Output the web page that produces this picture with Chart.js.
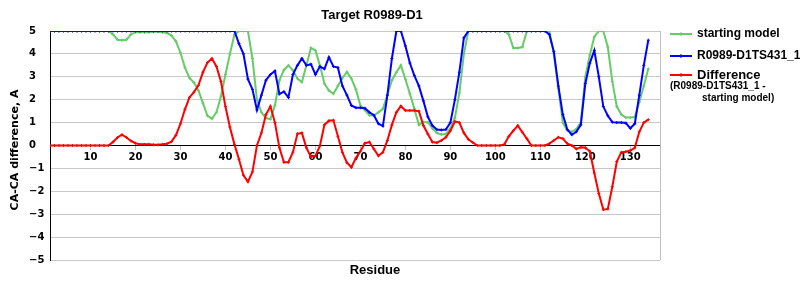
<!DOCTYPE html>
<html>
<head>
<meta charset="utf-8">
<script src="https://cdn.jsdelivr.net/npm/chart.js@4/dist/chart.umd.min.js"></script>
<style>
  html, body { margin: 0; padding: 0; background: #fff; }
</style>
</head>
<body>
<canvas id="chart" width="800" height="300"></canvas>
<script>
// residue numbers along the x axis
const residues = Array.from({ length: 134 }, (_, i) => i + 1);

// CA-CA difference of the starting model (green)
const startingModel = [
  5, 5, 5, 5, 5, 5, 5, 5, 5, 5,
  5, 5, 5, 5, 4.85, 4.62, 4.6, 4.62, 4.85, 4.95,
  4.95, 4.95, 4.95, 4.97, 4.97, 4.95, 4.92, 4.8, 4.55, 4.05,
  3.4, 2.95, 2.75, 2.4, 1.85, 1.3, 1.17, 1.45, 2.15, 3.1,
  4.0, 4.85, 5, 5, 5, 3.8, 2.0, 1.45, 1.2, 1.15,
  1.75, 2.85, 3.3, 3.5, 3.28, 2.92, 2.77, 3.5, 4.26, 4.15,
  3.5, 2.7, 2.4, 2.26, 2.6, 2.95, 3.21, 2.92, 2.45, 1.75,
  1.55, 1.32, 1.31, 1.45, 1.6, 2.2, 2.85, 3.2, 3.5, 2.9,
  2.26, 1.6, 0.9, 1.02, 1.02, 0.75, 0.55, 0.48, 0.5, 0.75,
  1.2, 2.3, 4.0, 5, 5, 5, 5, 5, 5, 5,
  5, 5, 4.85, 4.26, 4.26, 4.3, 5, 5, 5, 5,
  5, 5, 4.0, 2.5, 1.0, 0.65, 0.6, 0.72, 1.0, 3.0,
  3.95, 4.75, 5, 5, 4.3, 2.8, 1.7, 1.35, 1.22, 1.22,
  1.24, 1.9, 2.6, 3.35
];

// CA-CA difference of model R0989-D1TS431_1 (blue)
const model = [
  5, 5, 5, 5, 5, 5, 5, 5, 5, 5,
  5, 5, 5, 5, 5, 5, 5, 5, 5, 5,
  5, 5, 5, 5, 5, 5, 5, 5, 5, 5,
  5, 5, 5, 5, 5, 5, 5, 5, 5, 5,
  5, 5, 4.45, 4.0, 2.9, 2.45, 1.55, 2.2, 2.85, 3.1,
  3.25, 2.25, 2.35, 2.1, 3.1, 3.5, 3.8, 3.5, 3.55, 3.1,
  3.45, 3.35, 3.85, 3.45, 3.4, 2.6, 2.2, 1.75, 1.65, 1.65,
  1.63, 1.45, 1.32, 0.95, 0.85, 2.2, 3.8, 5, 5, 4.35,
  3.6, 3.05, 2.6, 1.95, 1.25, 0.87, 0.7, 0.68, 0.7, 1.0,
  2.0, 3.2, 4.7, 5, 5, 5, 5, 5, 5, 5,
  5, 5, 5, 5, 5, 5, 5, 5, 5, 5,
  5, 4.85, 4.1, 2.6, 1.35, 0.7, 0.47, 0.6, 0.9, 2.7,
  3.6, 4.15, 3.0, 1.7, 1.3, 1.02, 1.0, 1.0, 0.98, 0.75,
  0.95, 2.2, 3.5, 4.6
];

// model minus starting model (red)
const difference = [
  0, 0, 0, 0, 0, 0, 0, 0, 0, 0,
  0, 0, 0, 0, 0.15, 0.35, 0.47, 0.35, 0.2, 0.1,
  0.05, 0.05, 0.05, 0.03, 0.03, 0.05, 0.08, 0.17, 0.45, 0.95,
  1.58, 2.1, 2.33, 2.63, 3.2, 3.62, 3.8, 3.45, 2.8, 1.7,
  0.8, 0.05, -0.6, -1.3, -1.58, -1.15, 0, 0.55, 1.35, 1.71,
  1.0, -0.1, -0.73, -0.73, -0.29, 0.51, 0.55, -0.1, -0.5, -0.45,
  -0.02, 0.9, 1.08, 1.1, 0.4, -0.3, -0.75, -0.95, -0.55, -0.25,
  0.1, 0.15, -0.15, -0.45, -0.3, 0.22, 0.9, 1.45, 1.72, 1.53,
  1.53, 1.53, 1.5, 0.87, 0.5, 0.15, 0.12, 0.22, 0.36, 0.64,
  1.05, 1.0, 0.55, 0.27, 0.13, 0, 0, 0, 0, 0,
  0, 0.05, 0.4, 0.65, 0.87, 0.58, 0.3, 0, 0, 0,
  0, 0.08, 0.22, 0.36, 0.3, 0.08, 0, -0.15, -0.08, -0.1,
  -0.25, -1.2, -2.1, -2.8, -2.77, -1.8, -0.7, -0.3, -0.27, -0.22,
  -0.1, 0.6, 1.0, 1.13
];

const xTicks = [10, 20, 30, 40, 50, 60, 70, 80, 90, 100, 110, 120, 130];
const yTicks = [-5, -4, -3, -2, -1, 0, 1, 2, 3, 4, 5];

const seriesNames = ['starting model', 'R0989-D1TS431_1', 'Difference'];
const diffNote = ['(R0989-D1TS431_1 -', 'starting model)'];
const colors = ['#66cc66', '#0000ff', '#ff0000'];
const chartTitle = 'Target R0989-D1';
const xTitle = 'Residue';
const yTitle = 'CA-CA difference, A';

// titles, right frame and the legend box
const decor = {
  id: 'decor',
  beforeDatasetsDraw(chart) {
    const { ctx, chartArea: a } = chart;
    ctx.save();
    ctx.strokeStyle = '#c0c0c0';
    ctx.lineWidth = 1;
    ctx.beginPath();
    ctx.moveTo(a.right + 0.5, a.top);
    ctx.lineTo(a.right + 0.5, a.bottom);
    ctx.stroke();
    ctx.restore();
  },
  afterDraw(chart) {
    const ctx = chart.ctx;
    ctx.save();
    ctx.fillStyle = '#000';
    ctx.textAlign = 'center';
    ctx.textBaseline = 'middle';
    ctx.font = 'bold 13px "Liberation Sans", Arial, sans-serif';
    ctx.fillText(chartTitle, 372, 15);
    ctx.fillText(xTitle, 375, 270);

    ctx.save();
    ctx.font = 'bold 11px "DejaVu Sans", sans-serif';
    ctx.translate(15, 150);
    ctx.rotate(-Math.PI / 2);
    ctx.fillText(yTitle, 0, 0);
    ctx.restore();

    // legend
    const rows = [34, 56, 75];
    ctx.textAlign = 'left';
    seriesNames.forEach((name, i) => {
      const y = rows[i];
      ctx.strokeStyle = colors[i];
      ctx.lineWidth = 2;
      ctx.beginPath();
      ctx.moveTo(670, y);
      ctx.lineTo(692, y);
      ctx.stroke();
      ctx.lineWidth = 1;
      ctx.beginPath();
      ctx.moveTo(681, y - 2);
      ctx.lineTo(681, y + 2);
      ctx.stroke();
      ctx.font = i == 2 ? 'bold 13px "Liberation Sans", Arial, sans-serif' : 'bold 12px "Liberation Sans", Arial, sans-serif';
      ctx.fillText(name, 697, y);
    });
    ctx.font = 'bold 10px "Liberation Sans", Arial, sans-serif';
    ctx.fillText(diffNote[0], 670, 86);
    ctx.fillText(diffNote[1], 702, 98);
    ctx.restore();
  }
};

const makeSet = (label, values, color, order) => ({
  label: label,
  data: values,
  borderColor: color,
  backgroundColor: color,
  borderWidth: 2,
  pointStyle: 'cross',
  pointRadius: 1.5,
  pointBorderWidth: 1,
  tension: 0,
  fill: false,
  clip: 0,
  order: order
});

new Chart(document.getElementById('chart').getContext('2d'), {
  type: 'line',
  data: {
    labels: residues,
    datasets: [
      makeSet(seriesNames[0], startingModel, colors[0], 3),
      makeSet(seriesNames[1], model, colors[1], 2),
      makeSet(seriesNames[2], difference, colors[2], 1)
    ]
  },
  options: {
    responsive: false,
    animation: false,
    layout: { padding: { left: 29, right: 140, top: 31, bottom: 40 } },
    plugins: {
      legend: { display: false },
      tooltip: { enabled: false }
    },
    scales: {
      x: {
        type: 'linear',
        min: 1,
        max: 136.6,
        position: { y: 0 },
        afterBuildTicks: scale => { scale.ticks = xTicks.map(v => ({ value: v })); },
        grid: { drawOnChartArea: false, tickLength: 4, tickColor: '#c0c0c0' },
        border: { color: '#000', width: 1 },
        ticks: {
          autoSkip: false,
          maxRotation: 0,
          padding: 2,
          color: '#000',
          font: { family: 'DejaVu Sans', size: 10, weight: 'bold' }
        }
      },
      y: {
        min: -5,
        max: 5,
        afterBuildTicks: scale => { scale.ticks = yTicks.map(v => ({ value: v })); },
        afterFit: scale => { scale.width = 21; },
        grid: { color: '#c8c8c8', drawTicks: false },
        border: { color: '#000', width: 1 },
        ticks: {
          crossAlign: 'far',
          padding: 0,
          color: '#000',
          font: { family: 'DejaVu Sans', size: 10, weight: 'bold' },
          callback: v => String(v).replace('-', '\u2212')
        }
      }
    }
  },
  plugins: [decor]
});
</script>
</body>
</html>
